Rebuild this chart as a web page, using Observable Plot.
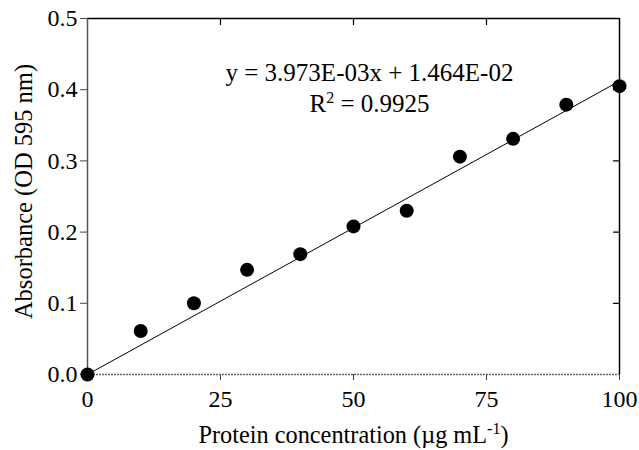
<!DOCTYPE html>
<html><head><meta charset="utf-8">
<script src="https://cdn.jsdelivr.net/npm/d3@7"></script>
<script src="https://cdn.jsdelivr.net/npm/@observablehq/plot@0.6"></script>
<style>body{margin:0;background:#fff}</style>
</head><body><div id="chart"></div>
<script>
const concentration = [0, 10, 20, 30, 40, 50, 60, 70, 80, 90, 100];
const absorbance = [0.0, 0.061, 0.100, 0.147, 0.169, 0.208, 0.230, 0.306, 0.331, 0.379, 0.405];
const fitX = [0, 100];
const fitY = [0, 0.412];
const xTicks = [0, 25, 50, 75, 100];
const yTicks = [0, 0.1, 0.2, 0.3, 0.4, 0.5];
const equationLines = ["y = 3.973E-03x + 1.464E-02", "R{2} = 0.9925"];
const xTitle = "Protein concentration (µg mL{-1})";
const yTitle = "Absorbance (OD 595 nm)";

const points = concentration.map((x, i) => ({x, y: absorbance[i]}));
const fit = fitX.map((x, i) => ({x, y: fitY[i]}));
const tickShape = {draw(ctx, l) { ctx.moveTo(0, 0); ctx.lineTo(0, -l); }};
const FONT = "'Liberation Serif', 'Times New Roman', serif";

const chart = Plot.plot({
  width: 639, height: 450,
  marginLeft: 87, marginRight: 20, marginTop: 18, marginBottom: 76,
  style: {fontFamily: FONT, fontSize: "24px", color: "#000", background: "#fff"},
  x: {domain: [0, 100]},
  y: {domain: [0, 0.5]},
  marks: [
    Plot.ruleY([0.5], {stroke: "#000", strokeWidth: 1.5}),
    Plot.ruleX([100], {stroke: "#000", strokeWidth: 1.5}),
    Plot.vector(xTicks.slice(1, -1), {x: d => d, y: 0.5, length: 6, rotate: 180, anchor: "start", shape: tickShape, stroke: "#000", strokeWidth: 1.2}),
    Plot.vector(yTicks.slice(1, -1), {x: 100, y: d => d, length: 6, rotate: -90, anchor: "start", shape: tickShape, stroke: "#000", strokeWidth: 1.2}),
    Plot.axisX({ticks: xTicks, tickSize: 6, tickPadding: 9, label: null, stroke: "#444", fontSize: 24}),
    Plot.axisY({ticks: yTicks, tickSize: 7, tickPadding: 3, tickFormat: d3.format(".1f"), label: null, stroke: "#444", fontSize: 24}),
    Plot.ruleX([0], {stroke: "#555", strokeWidth: 1.5}),
    Plot.ruleY([0], {stroke: "#666", strokeWidth: 1.5, strokeDasharray: "2,1"}),
    Plot.line(fit, {x: "x", y: "y", stroke: "#000", strokeWidth: 1}),
    Plot.dot(points, {x: "x", y: "y", r: 7, fill: "#000"}),
    Plot.text([equationLines.join("\n")], {x: 53, y: 0.405, text: d => d, fontSize: 25, lineHeight: 1.24, lineAnchor: "middle"}),
    Plot.text([xTitle], {frameAnchor: "bottom", dy: 61, fontSize: 24.3, textAnchor: "middle", lineAnchor: "middle"}),
    Plot.text([yTitle], {frameAnchor: "left", rotate: -90, dx: -63, dy: -5, fontSize: 24.5, textAnchor: "middle", lineAnchor: "middle"})
  ]
});

// superscripts marked with {...}
d3.select(chart).selectAll("text, tspan").each(function() {
  const el = this;
  if (el.childNodes.length !== 1 || el.firstChild.nodeType !== 3) return;
  const s = el.textContent;
  if (!/\{[^}]*\}/.test(s)) return;
  el.textContent = "";
  let raised = false;
  for (const p of s.split(/(\{[^}]*\})/)) {
    if (!p) continue;
    const t = document.createElementNS("http://www.w3.org/2000/svg", "tspan");
    if (p.startsWith("{")) {
      t.textContent = p.slice(1, -1);
      t.setAttribute("dy", "-9");
      t.setAttribute("font-size", "16");
      raised = true;
    } else {
      t.textContent = p;
      if (raised) { t.setAttribute("dy", "9"); raised = false; }
    }
    el.appendChild(t);
  }
});

document.getElementById("chart").appendChild(chart);
</script>
</body></html>
